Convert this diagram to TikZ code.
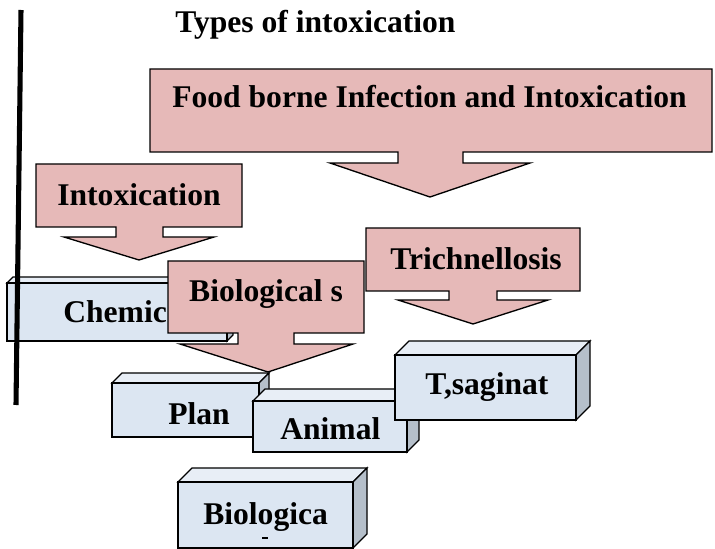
\documentclass[tikz,border=0pt]{standalone}
\usepackage{fontspec}
\setmainfont{Liberation Serif}
\definecolor{pinkfill}{HTML}{E6B9B8}
\definecolor{frontcol}{HTML}{DCE6F2}
\definecolor{topcol}{HTML}{E8EEF6}
\definecolor{sidecol}{HTML}{B5BFCA}
\tikzset{
  lbl/.style={font=\fontsize{23.7}{28}\selectfont\bfseries, inner sep=0pt},
  callout/.style={draw=black, fill=pinkfill, line width=1pt, line join=miter},
  face/.style={draw=black, line width=1pt, line join=miter},
  frontface/.style={face, fill=frontcol, rectangle, inner sep=0pt, outer sep=0pt, anchor=north west},
}
\newcommand\cuboid[6]{%
  \fill[face, fill=topcol] (#2,#3) -- ({#2+#6},{#3-#6}) -- ({#4+#6},{#3-#6}) -- (#4,#3) -- cycle;
  \fill[face, fill=sidecol] (#4,#3) -- ({#4+#6},{#3-#6}) -- ({#4+#6},{#5-#6}) -- (#4,#5) -- cycle;
  \node[frontface, minimum width={(#4-#2)*0.75pt}, minimum height={(#5-#3)*0.75pt}] (#1) at (#2,#3) {};
}
\begin{document}
\begin{tikzpicture}[x=0.75pt, y=-0.75pt]
\useasboundingbox (0,0) rectangle (715,549);

% title
\node[lbl, anchor=base west] (title) at (175,33) {Types of intoxication};

% big callout
\path[callout] (150,69) -- (712,69) -- (712,152) -- (463,152) -- (463,163) -- (530,163)
  -- (430,197) -- (330,163) -- (398,163) -- (398,152) -- (150,152) -- cycle;
\node[lbl, anchor=base west] (food) at (172,108) {Food borne Infection and Intoxication};

% Intoxication callout
\path[callout] (36,164) -- (242,164) -- (242,227) -- (163,227) -- (163,237) -- (214,237)
  -- (139,260) -- (64,237) -- (116,237) -- (116,227) -- (36,227) -- cycle;
\node[lbl, anchor=base] (intox) at (139,206) {Intoxication};

% Chemical box
\cuboid{chem}{7}{283}{227}{341}{6}
\node[lbl, anchor=base west] (chemtxt) at (63,323) {Chemic};

% Trichnellosis callout
\path[callout] (366,228) -- (580,228) -- (580,291) -- (497,291) -- (497,300) -- (548,300)
  -- (473,324) -- (398,300) -- (449,300) -- (449,291) -- (366,291) -- cycle;
\node[lbl, anchor=base] (trich) at (476,270) {Trichnellosis};

% Plan box
\cuboid{plan}{112}{383}{259}{437}{10}
\node[lbl, anchor=base west] (plantxt) at (168,425) {Plan};

% Biological s callout
\path[callout] (168,261) -- (364,261) -- (364,333) -- (294,333) -- (294,344) -- (353,344)
  -- (268,372) -- (180,344) -- (238,344) -- (238,333) -- (168,333) -- cycle;
\node[lbl, anchor=base] (bios) at (266,302) {Biological s};

% Animal box
\cuboid{animal}{253}{401}{407}{452}{12}
\node[lbl, anchor=base west] (animaltxt) at (280,440) {Animal};

% T,saginat box
\cuboid{tsag}{395}{355}{576}{420}{14}
\node[lbl, anchor=base west] (tsagtxt) at (425,395) {T,saginat};

% Biologica box
\cuboid{biol}{178}{482}{353}{548}{14}
\node[lbl, anchor=base west] (bioltxt) at (203,524) {Biologica};
\draw[line width=0.8pt] (262,538) -- (268,538);

% vertical line
\draw[line width=3.8pt] (21,10) -- (16,405);
\end{tikzpicture}
\end{document}
